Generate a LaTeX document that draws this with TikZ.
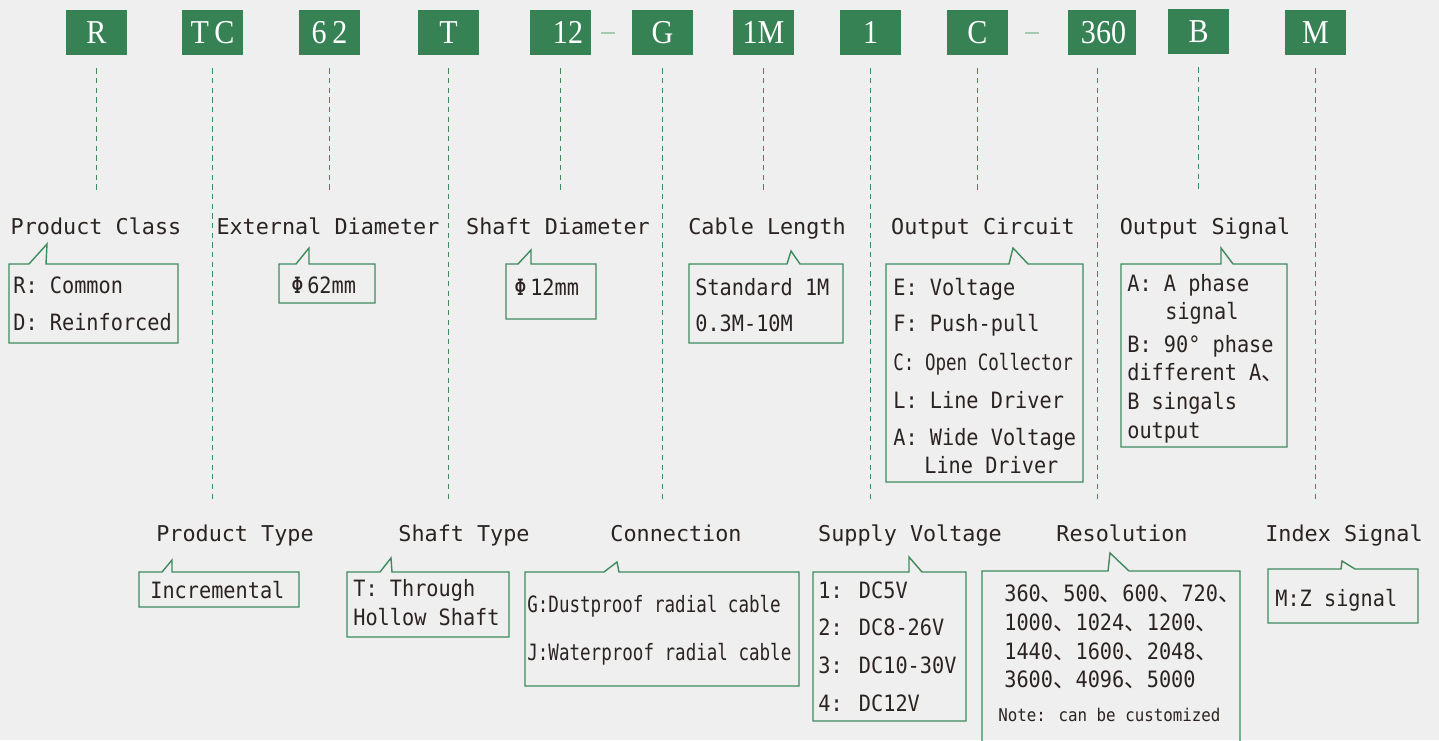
\documentclass[tikz,border=0pt]{standalone}
\usepackage{fontspec}
\setmainfont{DejaVu Sans Mono}
\newfontfamily\itemfont[FakeStretch=0.9]{DejaVu Sans Mono}
\newfontfamily\cablefont[FakeStretch=0.78]{DejaVu Sans Mono}
\newfontfamily\codefont[FakeStretch=0.9]{Liberation Serif}
\newfontfamily\cjk{Noto Sans CJK SC}
\newcommand{\dun}{{\cjk 、}}

\definecolor{bggray}{HTML}{EFEFEF}
\definecolor{codegreen}{HTML}{378255}
\definecolor{linegreen}{HTML}{3E8B5E}
\definecolor{sepgreen}{HTML}{A3C9AE}
\definecolor{inkdark}{HTML}{2A2321}

\tikzstyle{code} = [
fill=codegreen,
text=white,
font=\codefont\fontsize{19}{21}\selectfont,
minimum width=1.22cm,
minimum height=0.9cm,
text height=12.5pt,
text depth=0pt,
inner sep=0pt]
\tikzstyle{sepbar} = [
fill=sepgreen,
minimum width=0.28cm,
minimum height=0.03cm,
inner sep=0pt]
\tikzstyle{label} = [
text=inkdark,
font=\fontsize{12.4}{14}\selectfont,
text height=9pt,
text depth=0pt,
inner sep=0pt]
\tikzstyle{item} = [
text=inkdark,
font=\itemfont\fontsize{12.8}{14}\selectfont,
text height=9.3pt,
text depth=0pt,
inner sep=0pt,
anchor=west]
\tikzstyle{guide} = [
draw=linegreen,
line width=1pt,
dash pattern=on 3pt off 2.5pt,
shorten <=0.26cm]
\tikzstyle{callbox} = [
draw=linegreen,
line width=0.8pt,
line join=miter]

% box: x1 y1 x2 y2, notch: left base, tip x, tip y, right base
\newcommand{\callout}[8]{%
\draw[callbox] (#6,#7) -- (#8,#2) -- (#3,#2) -- (#3,#4) -- (#1,#4) -- (#1,#2) -- (#5,#2) -- cycle;}

\begin{document}
\begin{tikzpicture}[x=0.02cm, y=-0.02cm]

\useasboundingbox (0,0) rectangle (1439,740);
\fill[bggray] (0,0) rectangle (1439,740);

% code row
\node[code] (cR) at (96.5,32.5) {R};
\node[code] (cTC) at (212.5,32.5) {T\,C};
\node[code] (c62) at (329.5,32.5) {6\,2};
\node[code] (cT) at (448.5,32.5) {T};
\node[code] (c12) at (560.5,32.5) {\hspace{0.3cm}12};
\node[sepbar] (dashA) at (608,33) {};
\node[code] (cG) at (662.5,32.5) {G};
\node[code] (c1M) at (763.5,32.5) {1M};
\node[code] (c1) at (870.5,32.5) {1};
\node[code] (cC) at (977.5,32.5) {C};
\node[sepbar] (dashB) at (1032,33) {};
\node[code, minimum width=1.36cm] (c360) at (1101.5,32.5) {\hspace{0.08cm}360};
\node[code] (cB) at (1198.5,31.5) {B};
\node[code] (cM) at (1315.5,32.5) {M};

% upper labels
\node[label] (lClass) at (96,227) {Product Class};
\node[label] (lExt) at (328,227) {External Diameter};
\node[label] (lShaftD) at (558,227) {Shaft Diameter};
\node[label] (lCable) at (767,227) {Cable Length};
\node[label] (lCircuit) at (983,227) {Output Circuit};
\node[label] (lSignal) at (1205,227) {Output Signal};

% lower labels
\node[label] (lType) at (235,534) {Product Type};
\node[label] (lShaftT) at (464,534) {Shaft Type};
\node[label] (lConn) at (676,534) {Connection};
\node[label] (lSupply) at (910,534) {Supply Voltage};
\node[label] (lRes) at (1122,534) {Resolution};
\node[label] (lIndex) at (1344,534) {Index Signal};

% guides
\draw[guide, shorten >=0.57cm] (cR.south) -- (cR.south |- lClass.north);
\draw[guide, shorten >=0.57cm] (c62.south) -- (c62.south |- lExt.north);
\draw[guide, shorten >=0.57cm] (c12.south) -- (c12.south |- lShaftD.north);
\draw[guide, shorten >=0.57cm] (c1M.south) -- (c1M.south |- lCable.north);
\draw[guide, shorten >=0.57cm] (cC.south) -- (cC.south |- lCircuit.north);
\draw[guide, shorten >=0.57cm] (cB.south) -- (cB.south |- lSignal.north);
\draw[guide, shorten >=0.51cm] (cTC.south) -- (cTC.south |- lType.north);
\draw[guide, shorten >=0.51cm] (cT.south) -- (cT.south |- lShaftT.north);
\draw[guide, shorten >=0.51cm] (cG.south) -- (cG.south |- lConn.north);
\draw[guide, shorten >=0.51cm] (c1.south) -- (c1.south |- lSupply.north);
\draw[guide, shorten >=0.51cm] ([xshift=-0.08cm]c360.south) -- ([xshift=-0.08cm]c360.south |- lRes.north);
\draw[guide, shorten >=0.51cm] (cM.south) -- (cM.south |- lIndex.north);

% callouts
\callout{9}{264}{178}{343}{29}{47}{244}{46}
\callout{279}{264}{375}{303}{296}{309}{248}{309}
\callout{506}{264}{596}{319}{518}{531}{250}{531}
\callout{689}{264}{843}{343}{787}{791}{251}{800}
\callout{886}{264}{1083}{482}{1009}{1013}{248}{1028}
\callout{1121}{264}{1287}{447}{1221}{1221}{248}{1233}
\callout{139}{572}{299}{607}{162}{172}{560}{172}
\callout{347}{572}{509}{637}{380}{391}{558}{392}
\callout{525}{572}{799}{686}{604}{617}{562}{619}
\callout{813}{572}{966}{721}{909}{909}{557}{922}
\callout{982}{571}{1240}{748}{1108}{1110}{553}{1129}
\callout{1268}{569}{1418}{623}{1341}{1342}{561}{1355}

% texts
\node[item] (pcR) at (13,285) {R: Common};
\node[item] (pcD) at (13,322) {D: Reinforced};
\node[item] (ed) at (291,285) {Φ\,62mm};
\node[item] (sd) at (514,287) {Φ\,12mm};
\node[item] (clStd) at (695,287) {Standard 1M};
\node[item] (clRange) at (695,323) {0.3M-10M};
\foreach \y/\t [count=\i] in {287/E: Voltage, 323/F: Push-pull, 400/L: Line Driver, 437/A: Wide Voltage}
  \node[item] (oc\i) at (893,\y) {\t};
\node[item, font=\cablefont\fontsize{12.8}{14}\selectfont] (oc5) at (893,362) {C: Open Collector};
\node[item] (oc6) at (924,465) {Line Driver};
\node[item] (os1) at (1127,283) {A: A phase};
\node[item] (os2) at (1165,311) {signal};
\node[item] (os3) at (1127,344) {B: 90° phase};
\node[item] (os4) at (1127,372) {different A\dun};
\node[item] (os5) at (1127,401) {B singals};
\node[item] (os6) at (1127,430) {output};
\node[item] (pt) at (150,590) {Incremental};
\node[item] (st1) at (353,588) {T: Through};
\node[item] (st2) at (353,617) {Hollow Shaft};
\node[item, font=\cablefont\fontsize{12.8}{14}\selectfont] (cnG) at (527,604) {G:Dustproof radial cable};
\node[item, font=\cablefont\fontsize{12.8}{14}\selectfont] (cnJ) at (527,652) {J:Waterproof radial cable};
\foreach \y/\t [count=\i] in {590/1: DC5V, 627/2: DC8-26V, 665/3: DC10-30V, 703/4: DC12V}
  \node[item] (sv\i) at (818,\y) {\t};
\node[item] (rs1) at (1004,593) {360\dun 500\dun 600\dun 720\dun};
\node[item] (rs2) at (1004,622) {1000\dun 1024\dun 1200\dun};
\node[item] (rs3) at (1004,651) {1440\dun 1600\dun 2048\dun};
\node[item] (rs4) at (1004,679) {3600\dun 4096\dun 5000};
\node[item, font=\itemfont\fontsize{10}{12}\selectfont, text height=7pt] (rsNote) at (998,715) {Note: can be customized};
\node[item] (ix) at (1275,598) {M:Z signal};

\end{tikzpicture}
\end{document}
